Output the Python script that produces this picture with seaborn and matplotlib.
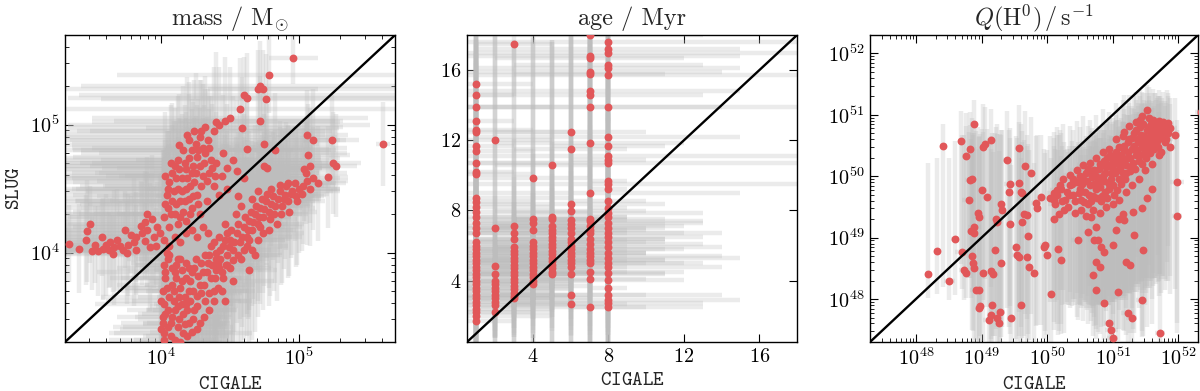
import numpy as np
import matplotlib
matplotlib.use("Agg")
import matplotlib.pyplot as plt
import matplotlib.ticker as mticker
import seaborn as sns

# ---- mass panel: (log10 CIGALE, log10 SLUG, x error dex, y error dex)
mass_arm = [(3.33,4.07,0.6,0.3),(3.45,4.10,0.7,0.35),(3.46,4.17,0.6,0.4),(3.48,4.22,0.8,0.3),(3.50,4.01,0.5,0.3),
            (3.54,4.01,0.7,0.35),(3.58,4.03,0.6,0.4),(3.62,4.02,0.8,0.3),(3.66,4.04,0.5,0.45),(3.70,4.05,0.9,0.35),
            (3.72,4.02,0.6,0.3),(3.76,4.06,0.7,0.4),(3.80,4.08,0.8,0.5),(3.82,4.12,0.6,0.35),(3.86,4.15,0.9,0.4),
            (3.88,4.09,0.7,0.3),(3.90,4.18,0.8,0.45),(3.92,4.04,0.6,0.5),(3.95,4.12,1.0,0.4),(3.97,4.20,0.7,0.35),
            (3.78,4.14,0.8,0.3),(3.68,4.10,0.6,0.4),(3.85,4.21,0.9,0.35),(3.93,4.26,0.8,0.5),(3.99,4.15,0.7,0.45),
            (3.74,4.18,0.6,0.3),(3.63,4.08,0.7,0.35),(3.52,4.06,0.6,0.3),(3.60,4.06,0.7,0.4),(3.65,3.99,0.5,0.3),
            (3.82,4.02,0.6,0.35),(3.88,4.24,0.8,0.4),(3.96,4.05,0.7,0.3),(3.40,4.03,0.6,0.35),(3.57,4.12,0.7,0.3),
            (3.75,4.00,0.5,0.4),(3.90,4.30,0.9,0.45)]
mass_upper = [(4.02,4.28,0.7,0.5),(4.05,4.35,0.8,0.45),(4.04,4.45,0.9,0.5),(4.06,4.55,0.7,0.4),(4.08,4.62,1.0,0.55),
              (4.10,4.68,0.8,0.45),(4.12,4.72,0.9,0.5),(4.08,4.40,0.7,0.6),(4.12,4.50,1.0,0.4),(4.15,4.58,0.8,0.5),
              (4.18,4.65,0.9,0.45),(4.20,4.74,1.1,0.5),(4.22,4.80,0.8,0.4),(4.25,4.85,0.9,0.55),(4.28,4.90,1.0,0.45),
              (4.30,4.82,0.8,0.5),(4.26,4.75,0.9,0.4),(4.22,4.62,0.7,0.5),(4.18,4.50,0.8,0.55),(4.14,4.40,0.9,0.45),
              (4.10,4.30,0.7,0.5),(4.16,4.32,0.8,0.4),(4.20,4.42,0.9,0.6),(4.24,4.55,1.0,0.5),(4.28,4.68,0.8,0.45),
              (4.32,4.78,0.9,0.5),(4.34,4.88,1.0,0.4),(4.38,4.95,0.9,0.5),(4.42,5.00,1.1,0.45),(4.46,5.03,0.8,0.5),
              (4.50,5.05,1.0,0.4),(4.40,5.02,0.9,0.55),(4.36,4.72,0.8,0.5),(4.30,4.60,0.7,0.45),(4.26,4.45,0.9,0.5),
              (4.22,4.35,0.8,0.55),(4.18,4.25,0.7,0.5),(4.12,4.22,0.8,0.45),(4.06,4.20,0.7,0.5),(4.28,4.30,0.6,0.5),
              (4.33,4.40,0.7,0.55),(4.38,4.52,0.8,0.5),(4.44,4.60,0.7,0.45),(4.48,4.66,0.8,0.5),(4.40,4.70,0.9,0.4),
              (4.35,4.62,0.8,0.5),(4.45,4.78,0.9,0.45),(4.52,4.72,0.7,0.5),(4.55,4.64,0.6,0.55),(4.60,4.58,0.5,0.5),
              (4.48,4.50,0.6,0.45),(4.42,4.45,0.7,0.5),(4.24,4.95,1.0,0.4),(4.20,4.88,0.9,0.45),(4.16,4.80,0.8,0.5),
              (4.32,4.98,1.0,0.4),(4.03,4.38,0.8,0.5),(4.05,4.50,0.7,0.45),(4.07,4.30,0.9,0.5),(4.09,4.48,0.8,0.55),
              (4.11,4.58,1.0,0.45),(4.11,4.38,0.7,0.5),(4.13,4.65,0.9,0.4),(4.14,4.28,0.8,0.5),(4.15,4.48,0.7,0.55),
              (4.17,4.70,1.0,0.45),(4.17,4.40,0.8,0.5),(4.19,4.58,0.9,0.4),(4.21,4.30,0.7,0.5),(4.21,4.52,0.8,0.45),
              (4.23,4.68,1.0,0.5),(4.23,4.44,0.7,0.55),(4.25,4.62,0.9,0.45),(4.27,4.38,0.8,0.5),(4.27,4.80,1.0,0.4),
              (4.29,4.52,0.7,0.5),(4.31,4.70,0.9,0.45),(4.33,4.56,0.8,0.5),(4.35,4.82,1.0,0.4),(4.37,4.66,0.8,0.5),
              (4.39,4.60,0.7,0.45),(4.03,4.60,0.9,0.5),(4.07,4.70,1.0,0.45),(4.13,4.84,0.9,0.4),(4.19,4.92,1.0,0.45),
              (4.29,4.95,0.9,0.4)]
mass_trail = [(4.62,4.81,0.6,0.45),(4.59,4.97,0.7,0.4),(4.75,4.85,0.5,0.4),(4.83,4.80,0.4,0.45),(4.75,4.68,0.5,0.4),
              (4.77,4.66,0.4,0.5),(4.72,5.03,0.6,0.35),(4.62,5.21,1.3,0.35),(4.60,5.23,1.2,0.3),(4.57,5.12,1.3,0.4),
              (4.70,5.28,1.4,0.3),(4.72,5.30,1.3,0.35),(4.74,5.28,0.4,0.3),(4.76,5.20,1.2,0.35),(4.78,5.39,1.1,0.3),
              (4.96,5.52,0.18,0.2),(4.92,4.54,0.3,0.45),(4.86,4.53,0.4,0.5),(4.80,4.50,0.5,0.45),(4.70,4.48,0.6,0.5),
              (4.66,4.42,0.5,0.45),(4.56,4.44,0.6,0.5)]
mass_mid = [(4.02,4.10,0.6,0.7),(4.06,4.05,0.5,0.8),(4.10,4.12,0.6,0.7),(4.14,4.08,0.5,0.8),(4.18,4.15,0.6,0.6),
            (4.22,4.18,0.5,0.7),(4.26,4.12,0.4,0.8),(4.30,4.20,0.5,0.6),(4.34,4.15,0.4,0.7)]
mass_lower = [(4.00,3.40,0.3,0.9),(4.02,3.37,0.4,1.0),(4.01,3.50,0.2,0.8),(4.02,3.60,0.5,0.9),(4.01,3.70,0.3,1.1),
              (4.03,3.80,0.4,0.8),(4.02,3.90,0.2,0.9),(4.05,3.55,0.3,1.0),(4.06,3.65,0.5,0.7),(4.07,3.45,0.2,0.9),
              (4.08,3.75,0.4,1.0),(4.10,3.85,0.3,0.8),(4.10,3.55,0.2,1.1),(4.12,3.42,0.4,0.9),(4.13,3.65,0.3,0.8),
              (4.15,3.78,0.2,1.0),(4.16,3.37,0.5,0.9),(4.16,3.52,0.3,0.8),(4.18,3.60,0.2,1.1),(4.20,3.70,0.4,0.9),
              (4.20,3.45,0.3,1.0),(4.22,3.85,0.2,0.8),(4.24,3.55,0.3,0.9),(4.26,3.66,0.2,1.0),(4.28,3.75,0.4,0.8),
              (4.30,3.85,0.2,0.9),(4.32,3.62,0.3,1.0),(4.34,3.92,0.2,0.8),(4.36,3.80,0.2,0.9),(4.38,3.70,0.3,1.0),
              (4.40,3.95,0.2,0.8),(4.42,3.88,0.3,0.7),(4.25,3.95,0.3,0.9),(4.18,3.92,0.4,0.8),(4.12,3.95,0.3,1.0),
              (4.06,3.98,0.4,0.9),(4.04,4.00,0.5,0.8),(4.28,3.45,0.2,0.9),(4.22,3.38,0.3,1.0),(4.35,3.55,0.2,0.8),
              (4.14,3.30,0.3,0.9),(4.02,3.32,0.4,1.0),(4.01,3.45,0.3,0.8),(4.03,3.52,0.2,0.9),(4.00,3.62,0.4,1.0),
              (4.04,3.72,0.3,0.8),(4.03,3.85,0.5,0.9),(4.05,3.95,0.3,0.7),(4.07,3.35,0.2,1.0),(4.08,3.50,0.4,0.9),
              (4.09,3.62,0.3,0.8),(4.09,3.70,0.2,1.0),(4.11,3.80,0.4,0.9),(4.11,3.90,0.3,0.8),(4.12,3.58,0.2,0.9),
              (4.13,3.48,0.3,1.0),(4.14,3.72,0.4,0.8),(4.15,3.86,0.2,0.9),(4.17,3.44,0.3,1.0),(4.17,3.65,0.2,0.8),
              (4.18,3.80,0.4,0.9),(4.19,3.55,0.3,1.0),(4.21,3.62,0.2,0.8),(4.21,3.78,0.3,0.9),(4.23,3.48,0.2,1.0),
              (4.23,3.70,0.3,0.8),(4.24,3.88,0.2,0.9),(4.26,3.58,0.3,0.8),(4.27,3.82,0.2,0.9),(4.29,3.68,0.3,1.0),
              (4.29,3.92,0.2,0.8),(4.31,3.75,0.3,0.9),(4.33,3.85,0.2,0.8),(4.35,3.68,0.2,0.9),(4.37,3.90,0.3,0.7),
              (4.39,3.80,0.2,0.8),(4.41,3.72,0.2,0.9),(4.43,3.95,0.3,0.7),(4.45,3.80,0.2,0.8),(4.47,3.90,0.2,0.7),
              (4.19,3.35,0.3,1.0),(4.26,3.40,0.2,0.9),(4.31,3.50,0.2,0.8),(4.05,3.42,0.4,1.0),(4.10,3.32,0.3,0.9),
              (4.15,3.60,0.2,0.8),(4.20,3.88,0.3,0.9),(4.08,3.88,0.4,0.8),(4.14,3.95,0.3,0.9),(4.32,3.98,0.2,0.7),
              (4.38,3.62,0.2,0.8),(4.46,3.62,0.2,0.7)]
mass_band = [(4.40,4.00,0.3,0.7),(4.45,4.05,0.2,0.8),(4.48,3.98,0.3,0.7),(4.50,4.10,0.4,0.6),(4.52,4.02,0.2,0.8),
             (4.55,4.15,0.3,0.7),(4.57,4.08,0.2,0.6),(4.60,4.20,0.3,0.7),(4.62,4.12,0.4,0.6),(4.64,4.25,0.2,0.7),
             (4.66,4.18,0.3,0.6),(4.68,4.30,0.2,0.7),(4.70,4.22,0.3,0.6),(4.72,4.35,0.4,0.5),(4.74,4.28,0.2,0.6),
             (4.76,4.40,0.3,0.5),(4.78,4.32,0.2,0.6),(4.80,4.38,0.3,0.5),(4.82,4.30,0.2,0.6),(4.85,4.42,0.3,0.5),
             (4.88,4.36,0.2,0.6),(4.90,4.45,0.3,0.5),(4.92,4.40,0.2,0.6),(4.95,4.48,0.3,0.5),(4.98,4.44,0.2,0.55),
             (5.00,4.50,0.3,0.5),(5.03,4.52,0.2,0.45),(5.06,4.56,0.3,0.5),(5.08,4.50,0.2,0.45),(5.10,4.58,0.2,0.4),
             (5.14,4.54,0.2,0.45),(5.21,4.59,0.15,0.4),(5.24,4.88,0.2,0.35),(5.25,4.70,0.2,0.4),(5.27,4.68,0.15,0.4),
             (5.07,4.76,0.3,0.4),(5.08,4.68,0.2,0.45),(5.04,4.65,0.25,0.4),(5.06,4.92,0.3,0.35),(5.10,4.88,0.2,0.4),
             (5.61,4.85,0.05,0.33),(4.46,4.22,0.3,0.7),(4.54,4.30,0.3,0.6),(4.58,3.95,0.2,0.7),(4.50,3.88,0.3,0.8),
             (4.44,3.85,0.2,0.8),(4.62,4.05,0.3,0.7),(4.70,4.10,0.2,0.6),(4.58,4.36,0.3,0.6),(4.66,4.02,0.2,0.7),
             (4.74,4.15,0.3,0.6),(4.84,4.22,0.2,0.6),(4.48,4.15,0.3,0.7),(4.36,4.05,0.3,0.8),(4.42,4.12,0.2,0.7),
             (4.68,3.98,0.2,0.6),(4.52,3.78,0.3,0.7),(4.44,3.70,0.2,0.8),(4.64,3.86,0.2,0.6),
             (4.35,3.98,0.3,0.7),(4.38,4.08,0.2,0.8),(4.41,3.92,0.3,0.7),(4.43,4.02,0.2,0.6),(4.46,4.10,0.3,0.7),
             (4.49,4.04,0.2,0.8),(4.51,4.18,0.3,0.6),(4.53,4.08,0.2,0.7),(4.56,4.22,0.3,0.6),(4.59,4.12,0.2,0.7),
             (4.61,4.28,0.3,0.6),(4.63,4.18,0.2,0.7),(4.65,4.32,0.3,0.5),(4.67,4.24,0.2,0.6),(4.69,4.36,0.3,0.5),
             (4.71,4.28,0.2,0.6),(4.73,4.42,0.3,0.5),(4.75,4.34,0.2,0.6),(4.77,4.46,0.3,0.5),(4.79,4.26,0.2,0.6),
             (4.81,4.44,0.3,0.5),(4.83,4.36,0.2,0.6),(4.86,4.48,0.3,0.5),(4.89,4.42,0.2,0.55),(4.91,4.52,0.3,0.5),
             (4.94,4.46,0.2,0.5),(4.97,4.54,0.3,0.45),(4.99,4.40,0.2,0.5),(5.02,4.46,0.2,0.45),(5.05,4.62,0.3,0.4),
             (4.60,4.02,0.2,0.7),(4.56,3.98,0.3,0.7),(4.52,3.94,0.2,0.8),(4.48,3.90,0.3,0.7),(4.40,3.86,0.2,0.8),
             (4.64,4.10,0.2,0.6),(4.72,4.20,0.3,0.6),(4.78,4.18,0.2,0.6),(4.87,4.30,0.2,0.55),(4.93,4.32,0.2,0.5)]

# ---- age panel: (CIGALE Myr, SLUG Myr, x error, y error)
age_c1 = [(1,15.2,3,4),(1,14.6,2,5),(1,13.9,4,3),(1,13.1,2,6),(1,12.6,3,5),(1,12.5,5,4),(1,11.7,2,6),(1,11.4,3,5),
          (1,10.7,4,7),(1,10.2,2,5),(1,10.1,3,8),(1,8.7,5,6),(1,8.5,3,9),(1,8.2,4,5),(1,7.9,6,7),(1,7.6,3,4),
          (1,7.3,5,6),(1,7.0,4,10),(1,6.7,3,5),(1,6.2,5,4),(1,6.0,4,12),(1,5.8,3,3),(1,5.6,5,5),(1,5.4,4,4),
          (1,5.2,3,6),(1,5.0,5,3),(1,4.8,4,13),(1,4.6,3,4),(1,4.4,5,3),(1,4.2,4,5),(1,4.0,3,4),(1,3.8,5,3),
          (1,3.6,4,6),(1,3.4,3,2),(1,3.2,5,3),(1,3.0,4,15),(1,2.8,3,2),(1,2.6,5,3),(1,2.4,4,2),(1,2.2,3,2),
          (1,2.0,4,1.5),(1,1.7,2,1.2)]
age_c2 = [(2,12.0,3,6),(2,7.0,4,11),(2,4.85,3,4),(2,4.35,4,3),(2,4.0,3,14),(2,3.8,2,3),(2,3.6,4,2.5),(2,3.4,3,3),
          (2,3.2,2,2),(2,3.0,3,2.3),(2,2.8,4,2),(2,2.6,2,1.9),(2,2.2,3,1.5)]
age_c3 = [(3,17.5,2,3),(3,7.1,3,5),(3,6.7,4,11),(3,6.4,2,3),(3,5.9,3,4),(3,5.7,4,2),(3,5.5,2,3),(3,5.3,3,12),
          (3,5.1,4,2),(3,4.9,2,3),(3,4.7,3,2),(3,4.5,4,4),(3,4.3,2,3),(3,4.1,3,2),(3,3.9,2,3),(3,3.7,4,2),
          (3,3.5,3,2.5),(3,3.3,2,2),(3,3.1,3,2.3),(3,3.0,4,2.2)]
age_c4 = [(4,9.85,3,8),(4,7.5,4,4),(4,7.3,2,11),(4,6.9,3,3),(4,6.2,4,5),(4,6.0,2,3),(4,5.8,3,4),(4,5.6,4,12),
          (4,5.4,2,3),(4,5.2,3,2),(4,5.0,4,4),(4,4.8,2,3),(4,4.6,3,2),(4,4.4,4,3),(4,4.2,2,3.5),(4,4.0,3,2),
          (4,3.8,2,3.1)]
age_c5 = [(5,10.6,3,7),(5,7.6,4,10),(5,7.5,2,4),(5,7.1,3,3),(5,6.9,4,5),(5,6.7,2,11),(5,6.5,3,3),(5,6.3,4,4),
          (5,6.1,2,2),(5,5.9,3,3),(5,5.7,4,12),(5,5.5,2,3),(5,5.3,3,4),(5,5.1,4,2),(5,4.9,2,3),(5,4.7,3,2.5),
          (5,4.5,4,3.4),(5,4.35,2,2)]
age_c6 = [(6,12.45,4,6),(6,11.5,3,7),(6,8.35,5,10),(6,7.95,4,4),(6,7.45,3,5),(6,7.25,5,3),(6,7.0,4,11),(6,6.7,3,4),
          (6,6.4,5,3),(6,6.2,4,5),(6,6.0,3,12),(6,5.8,5,3),(6,5.6,4,2),(6,5.4,3,4),(6,5.2,5,3),(6,5.0,4,2),
          (6,4.8,3,3),(6,4.35,5,2),(6,3.2,4,2.3),(6,2.65,3,1.8)]
age_c7 = [(7,18.0,6,4),(7,16.8,8,5),(7,16.7,5,3),(7,15.9,7,6),(7,15.8,4,4),(7,14.8,8,5),(7,14.6,6,3),(7,13.9,7,8),
          (7,11.85,5,6),(7,9.0,8,9),(7,7.5,4,5),(7,7.4,6,11),(7,7.1,5,4),(7,6.9,3,6),(7,6.7,7,3),(7,6.4,4,12),
          (7,6.1,6,4),(7,5.8,5,3),(7,5.6,3,5),(7,5.4,7,4),(7,5.2,4,3),(7,5.0,6,2),(7,4.5,5,4),(7,4.1,3,3),
          (7,2.5,6,2)]
age_c8 = [(8,17.6,10,3),(8,17.2,7,5),(8,17.0,10,4),(8,16.3,5,6),(8,16.1,7,3),(8,15.75,10,5),(8,13.9,10,7),
          (8,12.2,7,4),(8,11.65,3,6),(8,11.1,10,5),(8,10.9,2,3),(8,10.7,10,8),(8,9.7,1,4),(8,9.5,10,6),
          (8,9.2,1,3),(8,8.55,2,5),(8,8.15,1,10),(8,7.85,5,4),(8,7.6,1,3),(8,7.3,5,6),(8,7.0,3,4),(8,6.7,4,3),
          (8,6.5,5,7),(8,6.2,3,4),(8,5.9,6,5),(8,5.6,2,3),(8,5.3,7,4),(8,5.0,4,6),(8,4.75,6,3),(8,4.45,3,4),
          (8,4.05,4,3),(8,3.6,1,2),(8,3.2,6,3),(8,2.9,7,2),(8,2.7,5,2.2),(8,2.5,2,2)]

# ---- Q(H0) panel: (log10 CIGALE, log10 SLUG, x error dex, y error below, y error above)
q_left = [(48.19,48.41,0.05,0.4,1.8),(48.32,48.79,0.05,0.7,1.5),(48.51,48.29,0.08,0.3,2.0),(48.42,50.50,0.05,2.3,0.35),
          (48.59,48.97,0.06,0.9,1.6),(48.69,50.57,0.05,2.0,0.5),(48.70,48.77,0.1,0.6,1.9),(48.73,48.48,0.08,0.5,2.2),
          (48.76,48.42,0.05,0.4,2.4),(48.77,50.33,0.06,1.8,0.7),(48.81,49.62,0.1,1.2,1.1),(48.83,50.44,0.05,2.1,0.6),
          (48.83,49.94,0.08,1.6,0.9),(48.86,49.95,0.05,1.3,1.0),(48.84,49.11,0.06,1.1,1.5),(48.88,50.85,0.05,2.4,0.4),
          (48.89,49.18,0.1,1.0,1.6),(48.88,49.07,0.06,0.9,1.4),(48.85,48.70,0.08,1.2,2.0),(48.87,48.58,0.05,1.1,2.1),
          (48.89,48.50,0.06,1.2,2.2),(48.91,48.14,0.08,0.8,2.6),(48.96,48.15,0.05,0.9,2.5),(48.95,49.40,0.06,1.6,1.4),
          (48.96,49.34,0.1,1.5,1.3),(49.01,49.77,0.08,1.9,1.0),(49.02,48.42,0.05,1.1,2.3),(49.03,50.48,0.06,2.5,0.7),
          (49.06,50.53,0.05,2.2,0.6),(49.08,49.67,0.08,1.8,1.1),(48.97,47.89,0.05,0.5,2.8),(48.96,47.85,0.06,0.6,2.6),
          (49.14,50.59,0.05,2.4,0.5),(49.11,47.66,0.08,0.4,2.9),(49.14,47.74,0.05,0.5,2.7),(49.16,47.90,0.06,0.6,2.8),
          (49.15,48.45,0.05,1.1,2.2),(49.18,48.40,0.08,1.0,2.0),(49.21,48.80,0.06,1.4,1.9),(49.22,49.31,0.05,1.8,1.5),
          (49.24,49.25,0.08,1.7,1.6),(49.24,47.69,0.05,0.4,3.0),(49.26,47.61,0.06,0.4,2.8),(49.29,48.58,0.05,1.2,2.1),
          (49.28,47.79,0.08,0.5,2.9),(49.30,49.55,0.06,2.0,1.2),(49.32,49.45,0.05,1.9,1.3),(49.39,50.26,0.06,2.4,0.8),
          (49.42,49.75,0.05,2.2,1.0),(49.43,49.88,0.08,2.0,0.9),(49.43,49.23,0.05,1.8,1.4),(49.45,47.69,0.06,0.4,2.5),
          (49.52,48.85,0.05,1.5,1.8),(49.54,48.72,0.08,1.4,1.9),(49.57,48.69,0.05,1.3,1.7),(49.57,50.46,0.06,2.6,0.7),
          (49.57,49.89,0.05,2.1,1.0),(49.60,49.75,0.08,2.2,1.1),(49.62,49.73,0.05,1.8,1.0),(49.60,47.90,0.06,0.6,2.4),
          (49.62,49.26,0.05,1.9,1.3),(49.65,49.39,0.08,2.0,1.2),(49.70,49.37,0.05,1.7,1.3),(49.67,50.16,0.06,2.4,0.9),
          (49.70,48.69,0.05,1.4,1.8),(49.71,49.03,0.08,1.6,1.5),(49.72,48.53,0.05,1.2,1.9),(49.75,50.06,0.06,2.3,0.9),
          (49.80,48.42,0.05,1.1,1.8),(49.83,49.56,0.08,2.0,1.1),(49.85,49.48,0.05,1.9,1.2),(49.90,49.67,0.06,2.1,1.0),
          (49.95,48.85,0.05,1.5,1.6),(49.97,48.88,0.08,1.4,1.5),(50.00,48.72,0.05,1.3,1.7),(50.06,48.09,0.06,0.8,2.2),
          (50.10,49.62,0.05,2.0,1.0),(50.15,49.70,0.08,2.1,1.1),(50.21,49.80,0.05,2.2,0.9),(50.11,49.30,0.06,1.8,1.2),
          (50.18,49.38,0.05,1.9,1.3),(50.26,49.45,0.08,2.0,1.1),(50.16,48.82,0.05,1.4,1.6),(50.21,48.63,0.06,1.2,1.7)]
q_right = [(50.47,48.96,0.1,1.3,1.6),(50.62,49.10,0.08,1.5,1.5),(50.67,49.34,0.1,1.7,1.4),(50.75,49.18,0.08,1.6,1.5),
           (50.72,48.96,0.1,1.4,1.7),(50.78,48.96,0.08,1.5,1.8),(50.75,48.61,0.1,1.1,2.0),(50.75,48.15,0.08,0.8,2.4),
           (50.70,48.39,0.1,1.0,2.2),(50.82,48.85,0.08,1.3,1.9),(50.86,48.76,0.1,1.2,2.0),(50.81,48.53,0.08,1.1,2.1),
           (50.87,47.93,0.1,0.6,2.5),(50.95,47.61,0.08,0.3,2.8),(50.98,47.50,0.1,0.3,2.9),(51.00,47.36,0.08,0.2,3.0),
           (51.00,48.88,0.1,1.4,2.0),(51.05,49.12,0.08,1.6,1.8),(51.10,49.31,0.1,1.8,1.6),(51.08,48.12,0.08,0.8,2.6),
           (51.15,49.39,0.1,1.9,1.5),(51.17,49.28,0.08,1.8,1.6),(51.21,48.61,0.1,1.2,2.2),(51.26,48.55,0.08,1.1,2.1),
           (51.23,47.77,0.1,0.5,2.8),(51.29,47.69,0.08,0.4,2.6),(51.33,49.04,0.1,1.6,1.8),(51.44,47.98,0.08,0.6,2.7),
           (51.46,48.80,0.1,1.4,2.0),(51.72,47.44,0.08,0.2,3.0),(51.31,49.42,0.1,1.9,1.6),(51.44,49.48,0.08,2.0,1.5),
           (51.52,49.64,0.1,2.1,1.4),(51.60,49.80,0.08,2.2,1.2),(51.98,49.91,0.1,2.3,1.0),(51.98,49.35,0.08,1.9,1.4),
           (52.35,51.05,0.1,0.5,0.3),(51.87,50.48,0.1,2.4,0.7),(51.95,50.67,0.08,2.5,0.6),(51.74,50.40,0.1,2.3,0.8),
           (51.85,50.86,0.08,2.0,0.5),(51.83,50.81,0.1,2.2,0.6),(51.69,50.81,0.08,2.1,0.5),(51.53,51.08,0.1,2.0,0.4),
           (51.41,50.91,0.08,1.9,0.5)]
q_core = [(50.30,49.75,0.1,1.8,0.7),(50.35,49.85,0.1,2.0,0.6),(50.40,49.70,0.1,1.7,0.8),(50.45,49.90,0.1,2.2,0.6),
          (50.50,49.80,0.1,1.9,0.7),(50.52,49.62,0.1,1.6,0.8),(50.55,49.95,0.1,2.3,0.6),(50.58,49.75,0.1,1.8,0.7),
          (50.60,50.05,0.1,2.1,0.6),(50.62,49.55,0.1,1.5,0.9),(50.65,49.85,0.1,2.0,0.7),(50.68,49.98,0.1,2.2,0.6),
          (50.70,49.68,0.1,1.7,0.8),(50.72,50.10,0.1,2.4,0.6),(50.75,49.80,0.1,1.9,0.7),(50.78,49.92,0.1,2.0,0.7),
          (50.80,50.20,0.1,2.3,0.6),(50.82,49.60,0.1,1.6,0.8),(50.85,50.00,0.1,2.1,0.7),(50.88,49.75,0.1,1.8,0.8),
          (50.90,50.15,0.1,2.2,0.7),(50.92,50.30,0.1,2.4,0.6),(50.95,49.88,0.1,1.9,0.8),(50.98,50.05,0.1,2.1,0.7),
          (51.00,50.25,0.1,2.3,0.7),(51.02,49.70,0.1,1.7,0.8),(51.05,50.40,0.1,2.4,0.6),(51.08,50.10,0.1,2.0,0.7),
          (51.10,49.95,0.1,1.9,0.8),(51.12,50.35,0.1,2.3,0.6),(51.15,50.20,0.1,2.1,0.7),(51.18,50.50,0.1,2.4,0.6),
          (51.20,50.05,0.1,1.9,0.8),(51.22,50.30,0.1,2.2,0.7),(51.25,50.60,0.1,2.5,0.6),(51.28,50.15,0.1,2.0,0.7),
          (51.30,50.45,0.1,2.3,0.7),(51.33,50.70,0.1,2.4,0.6),(51.35,50.35,0.1,2.1,0.7),(51.38,50.55,0.1,2.3,0.6),
          (51.40,50.25,0.1,2.0,0.8),(51.42,50.80,0.1,2.5,0.5),(51.45,50.50,0.1,2.2,0.7),(51.48,50.65,0.1,2.3,0.6),
          (51.50,50.40,0.1,2.1,0.8),(51.52,50.75,0.1,2.4,0.6),(51.55,50.55,0.1,2.2,0.7),(51.58,50.85,0.1,2.5,0.5),
          (51.60,50.62,0.1,2.3,0.6),(51.63,50.45,0.1,2.1,0.7),(51.65,50.75,0.1,2.4,0.6),(51.68,50.58,0.1,2.2,0.7),
          (51.70,50.90,0.1,2.5,0.5),(51.72,50.70,0.1,2.3,0.6),(51.75,50.78,0.1,2.4,0.5),(51.62,50.92,0.1,2.5,0.5),
          (51.55,50.95,0.1,2.4,0.5),(51.45,50.98,0.1,2.3,0.4),(51.35,50.88,0.1,2.2,0.5),(51.25,50.82,0.1,2.3,0.5),
          (51.18,50.72,0.1,2.2,0.6),(50.85,50.40,0.1,2.2,0.7),(50.75,50.30,0.1,2.1,0.7),(50.65,50.22,0.1,2.0,0.7),
          (50.55,50.18,0.1,2.1,0.8),(50.45,50.10,0.1,2.0,0.8),(50.35,50.02,0.1,1.9,0.8),(50.25,49.95,0.1,1.8,0.9),
          (50.20,49.85,0.1,1.7,0.9),(50.15,49.78,0.1,1.8,0.9),(50.10,49.72,0.1,1.6,1.0),(50.05,49.65,0.1,1.7,1.0),
          (50.12,49.55,0.1,1.6,0.9),(50.22,49.60,0.1,1.7,0.9),(50.32,49.50,0.1,1.6,0.9),(50.42,49.40,0.1,1.5,1.0),
          (50.52,49.45,0.1,1.6,0.9),(50.60,49.35,0.1,1.5,1.0),(50.70,49.45,0.1,1.6,0.9),(50.80,49.40,0.1,1.5,1.0),
          (50.90,49.50,0.1,1.7,0.9),(51.00,49.55,0.1,1.8,0.9),(51.10,49.62,0.1,1.8,0.9),(51.20,49.75,0.1,1.9,0.8),
          (51.30,49.85,0.1,2.0,0.8),(51.40,49.95,0.1,2.1,0.8),(51.50,50.10,0.1,2.2,0.7),(51.60,50.20,0.1,2.2,0.7),
          (51.70,50.35,0.1,2.3,0.7),(51.80,50.55,0.1,2.4,0.6),(51.85,50.70,0.1,2.4,0.6),(50.95,50.45,0.1,2.3,0.6),
          (51.05,50.60,0.1,2.4,0.6),(51.15,50.65,0.1,2.4,0.6),
          (50.28,49.62,0.1,1.7,0.8),(50.33,49.70,0.1,1.8,0.8),(50.38,49.88,0.1,2.0,0.7),(50.43,49.60,0.1,1.6,0.9),
          (50.48,49.72,0.1,1.8,0.8),(50.53,49.88,0.1,2.0,0.7),(50.57,49.58,0.1,1.6,0.9),(50.61,49.92,0.1,2.1,0.7),
          (50.64,49.70,0.1,1.8,0.8),(50.67,49.60,0.1,1.7,0.9),(50.69,50.08,0.1,2.2,0.7),(50.71,49.88,0.1,2.0,0.7),
          (50.74,50.00,0.1,2.1,0.7),(50.76,49.65,0.1,1.7,0.8),(50.79,50.12,0.1,2.2,0.7),(50.81,49.82,0.1,1.9,0.8),
          (50.84,49.68,0.1,1.8,0.8),(50.86,50.25,0.1,2.3,0.6),(50.87,49.92,0.1,2.0,0.7),(50.89,50.05,0.1,2.1,0.7),
          (50.91,49.65,0.1,1.7,0.8),(50.93,50.18,0.1,2.2,0.7),(50.94,49.80,0.1,1.9,0.8),(50.96,50.35,0.1,2.3,0.6),
          (50.97,49.95,0.1,2.0,0.7),(50.99,50.15,0.1,2.2,0.7),(51.01,49.85,0.1,1.9,0.8),(51.03,50.30,0.1,2.3,0.6),
          (51.04,50.05,0.1,2.1,0.7),(51.06,49.78,0.1,1.8,0.8),(51.07,50.22,0.1,2.2,0.7),(51.09,50.48,0.1,2.4,0.6),
          (51.11,50.12,0.1,2.1,0.7),(51.13,49.88,0.1,1.9,0.8),(51.14,50.28,0.1,2.3,0.6),(51.16,50.05,0.1,2.0,0.7),
          (51.17,50.42,0.1,2.4,0.6),(51.19,49.95,0.1,1.9,0.8),(51.21,50.18,0.1,2.2,0.7),(51.23,50.55,0.1,2.4,0.6),
          (51.24,50.40,0.1,2.3,0.6),(51.26,50.08,0.1,2.0,0.7),(51.27,50.30,0.1,2.2,0.7),(51.29,50.62,0.1,2.4,0.5),
          (51.31,50.22,0.1,2.1,0.7),(51.32,50.50,0.1,2.3,0.6),(51.34,50.12,0.1,2.0,0.7),(51.36,50.75,0.1,2.5,0.5),
          (51.37,50.42,0.1,2.3,0.6),(51.39,50.60,0.1,2.4,0.6),(51.41,50.35,0.1,2.2,0.7),(51.43,50.68,0.1,2.4,0.5),
          (51.44,50.20,0.1,2.1,0.7),(51.46,50.85,0.1,2.5,0.5),(51.47,50.45,0.1,2.3,0.6),(51.49,50.58,0.1,2.4,0.6),
          (51.51,50.30,0.1,2.2,0.7),(51.53,50.62,0.1,2.4,0.6),(51.54,50.48,0.1,2.3,0.6),(51.56,50.80,0.1,2.5,0.5),
          (51.57,50.38,0.1,2.2,0.7),(51.59,50.70,0.1,2.4,0.5),(51.61,50.52,0.1,2.3,0.6),(51.64,50.85,0.1,2.5,0.5),
          (51.66,50.65,0.1,2.4,0.6),(51.69,50.48,0.1,2.2,0.7),(51.71,50.80,0.1,2.5,0.5),(51.74,50.62,0.1,2.3,0.6),
          (51.77,50.88,0.1,2.5,0.5),(51.79,50.72,0.1,2.4,0.5),(51.82,50.60,0.1,2.3,0.6),(51.88,50.78,0.1,2.4,0.5),
          (50.50,50.00,0.1,2.1,0.8),(50.40,49.95,0.1,2.0,0.8),(50.62,50.12,0.1,2.2,0.7)]

RED = "#e15759"
GREY = "#bdbdbd"

sns.set_theme(style="ticks")
plt.rcParams.update({
    "font.family": "serif",
    "font.serif": ["cmr10"],
    "mathtext.fontset": "cm",
    "axes.formatter.use_mathtext": True,
    "axes.unicode_minus": False,
    "axes.edgecolor": "black",
    "axes.linewidth": 1.0,
})


def unpack(groups):
    rows = [p for g in groups for p in g]
    x = np.array([r[0] for r in rows], dtype=float)
    y = np.array([r[1] for r in rows], dtype=float)
    xe = np.array([r[2] for r in rows], dtype=float)
    ylo = np.array([r[3] for r in rows], dtype=float)
    yhi = np.array([r[-1] for r in rows], dtype=float)
    return x, y, xe, ylo, yhi


def draw(ax, groups, log, lims):
    x, y, xe, ylo, yhi = unpack(groups)
    if log:
        xv, yv = 10 ** x, 10 ** y
        xerr = [xv - 10 ** (x - xe), 10 ** (x + xe) - xv]
        yerr = [yv - 10 ** (y - ylo), 10 ** (y + yhi) - yv]
    else:
        xv, yv = x, y
        xerr = [xe, xe]
        yerr = [ylo, yhi]
    ax.errorbar(xv, yv, xerr=xerr, yerr=yerr, fmt="none", ecolor=GREY,
                alpha=0.3, elinewidth=3.2, capsize=0, zorder=1)
    sns.scatterplot(x=xv, y=yv, ax=ax, color=RED, s=32, linewidth=0, zorder=3)
    ax.plot(lims, lims, color="black", lw=1.7, zorder=4)
    if log:
        ax.set_xscale("log")
        ax.set_yscale("log")
        ax.xaxis.set_minor_formatter(mticker.NullFormatter())
        ax.yaxis.set_minor_formatter(mticker.NullFormatter())
    ax.set_xlim(lims)
    ax.set_ylim(lims)
    ax.tick_params(which="both", direction="in", top=True, right=True,
                   labelsize=14.5, colors="black", pad=4)
    ax.tick_params(which="major", length=6, width=0.8)
    ax.tick_params(which="minor", length=3, width=0.6)
    ax.set_xlabel(r"$\mathtt{CIGALE}$", fontsize=14.5, labelpad=4)


fig = plt.figure(figsize=(12, 3.91), dpi=100)
ax1 = fig.add_axes([0.0542, 0.1253, 0.275, 0.785])
ax2 = fig.add_axes([0.3892, 0.1253, 0.275, 0.785])
ax3 = fig.add_axes([0.7250, 0.1253, 0.2733, 0.785])

draw(ax1, [mass_arm, mass_upper, mass_trail, mass_mid, mass_lower, mass_band], True, [2.0e3, 5.0e5])
ax1.set_ylabel(r"$\mathtt{SLUG}$", fontsize=14.5, labelpad=5)
ax1.set_title(r"mass / $\mathrm{M}_{\odot}$", fontsize=17.5, pad=7)

draw(ax2, [age_c1, age_c2, age_c3, age_c4, age_c5, age_c6, age_c7, age_c8], False, [0.5, 18.0])
ax2.set_xticks([4, 8, 12, 16])
ax2.set_yticks([4, 8, 12, 16])
ax2.set_title(r"age / Myr", fontsize=17.5, pad=7)

draw(ax3, [q_left, q_right, q_core], True, [10 ** 47.3, 10 ** 52.3])
ax3.xaxis.set_major_locator(mticker.LogLocator(base=10, numticks=12))
ax3.yaxis.set_major_locator(mticker.LogLocator(base=10, numticks=12))
ax3.set_title(r"$Q(\mathrm{H}^0)\,/\,\mathrm{s}^{-1}$", fontsize=17.5, pad=7)

fig.savefig("out.png", dpi=100)
